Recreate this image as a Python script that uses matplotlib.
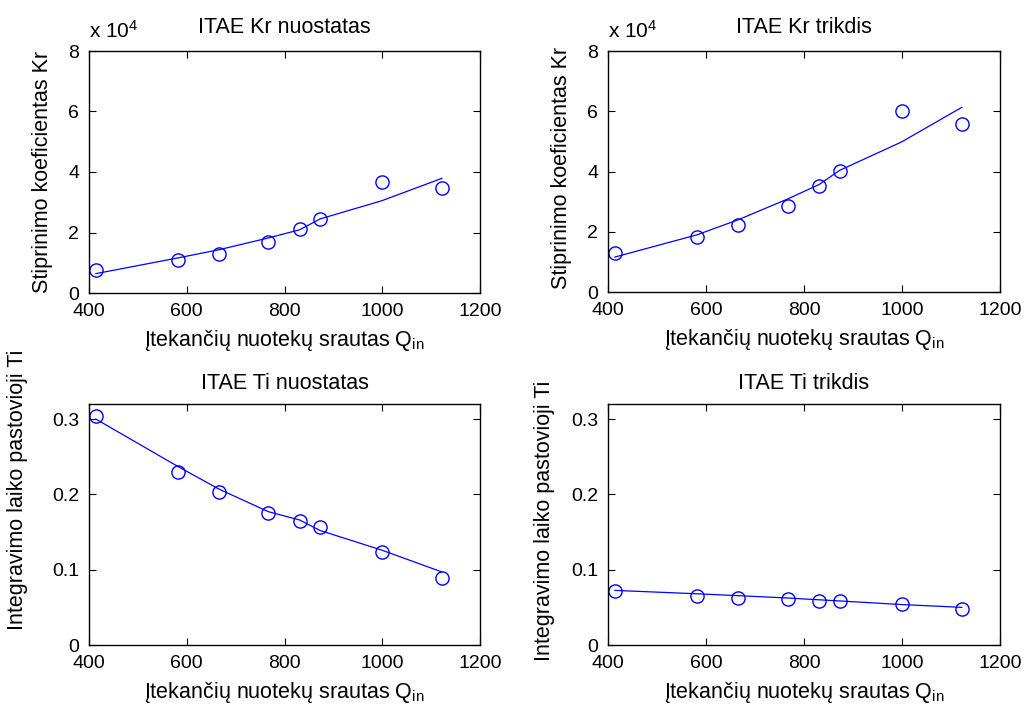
import matplotlib
matplotlib.use("Agg")
import matplotlib.pyplot as plt
from matplotlib.ticker import FixedLocator, FuncFormatter

plt.rcParams['font.family'] = ['Liberation Sans', 'DejaVu Sans']
plt.rcParams['mathtext.default'] = 'regular'

# ---- data ----
q_in = [414, 582, 666, 767, 831, 873, 999, 1122]

kr_set_pts = [7700, 11000, 13000, 16700, 21100, 24400, 36800, 34600]
kr_set_fit = [6400, 11600, 14300, 18200, 20900, 24500, 30500, 37900]

kr_dist_pts = [13000, 18200, 22100, 28700, 35300, 40100, 60200, 55800]
kr_dist_fit = [11600, 19000, 24000, 30900, 35700, 40400, 49800, 61300]

ti_set_pts = [0.3036, 0.2297, 0.2037, 0.1751, 0.1645, 0.1562, 0.1236, 0.0889]
ti_set_fit = [0.300, 0.237, 0.207, 0.177, 0.166, 0.152, 0.126, 0.097]

ti_dist_pts = [0.0717, 0.0655, 0.0629, 0.0607, 0.0585, 0.0585, 0.0541, 0.0479]
ti_dist_fit = [0.0725, 0.068, 0.0655, 0.0624, 0.0600, 0.0585, 0.0537, 0.0500]

x_ticks = [400, 600, 800, 1000, 1200]
kr_ticks = [0, 20000, 40000, 60000, 80000]
ti_ticks = [0, 0.1, 0.2, 0.3]

titles = ["ITAE Kr nuostatas", "ITAE Kr trikdis", "ITAE Ti nuostatas", "ITAE Ti trikdis"]
xlabel = "Įtekančių nuotekų srautas Q$_{in}$"
ylabel_kr = "Stiprinimo koeficientas Kr"
ylabel_ti = "Integravimo laiko pastovioji Ti"

W, H = 1024, 707
fig = plt.figure(figsize=(W / 100, H / 100), dpi=100)

def rect(l, r, t, b):
    return [l / W, 1 - b / H, (r - l) / W, (b - t) / H]

axes_rects = [rect(89, 480, 51, 293), rect(608, 1000, 51, 292),
              rect(89, 480, 404, 645), rect(608, 1000, 404, 645)]
pts_list = [kr_set_pts, kr_dist_pts, ti_set_pts, ti_dist_pts]
fit_list = [kr_set_fit, kr_dist_fit, ti_set_fit, ti_dist_fit]
ylabel_pos = [(-0.092, 0.50), (-0.092, 0.515), (-0.156, 0.643), (-0.135, 0.515)]

blue = (0, 0, 1)
for i in range(4):
    ax = fig.add_axes(axes_rects[i])
    ax.plot(q_in, fit_list[i], color=blue, lw=0.9)
    ax.plot(q_in, pts_list[i], 'o', mfc='none', mec=blue, ms=9.5, mew=1.0)
    ax.set_xlim(400, 1200)
    ax.xaxis.set_major_locator(FixedLocator(x_ticks))
    if i < 2:
        ax.set_ylim(0, 80000)
        ax.yaxis.set_major_locator(FixedLocator(kr_ticks))
        ax.yaxis.set_major_formatter(FuncFormatter(lambda v, p: f"{v / 1e4:g}"))
        ax.set_ylabel(ylabel_kr, fontsize=15.5)
        ax.text(0.0, 1.04, "x 10$^{4}$", transform=ax.transAxes, fontsize=15,
                ha='left', va='bottom')
    else:
        ax.set_ylim(0, 0.32)
        ax.yaxis.set_major_locator(FixedLocator(ti_ticks))
        ax.yaxis.set_major_formatter(FuncFormatter(lambda v, p: f"{v:g}"))
        ax.set_ylabel(ylabel_ti, fontsize=15.5)
    ax.yaxis.set_label_coords(*ylabel_pos[i])
    ax.set_xlabel(xlabel, fontsize=15.5, labelpad=6)
    ax.set_title(titles[i], fontsize=15.5, pad=13 if i < 2 else 11)
    ax.tick_params(direction='in', top=True, right=True, length=5, width=0.8,
                   labelsize=14, pad=7)
    for s in ax.spines.values():
        s.set_linewidth(1.0)

fig.savefig("out.png", dpi=100)
